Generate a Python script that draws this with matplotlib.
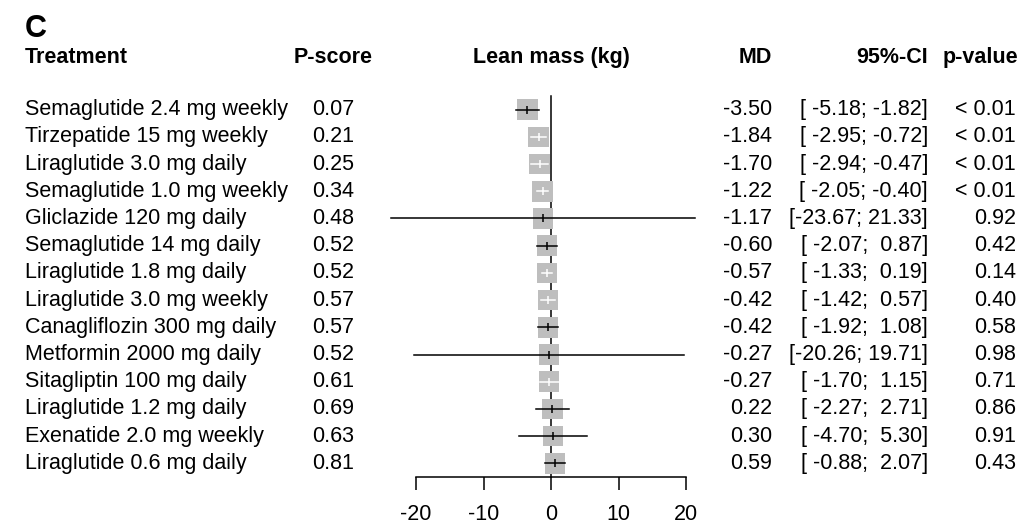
import numpy as np
import matplotlib
matplotlib.use("Agg")
import matplotlib.pyplot as plt
from matplotlib.patches import Rectangle
from matplotlib.transforms import blended_transform_factory

plt.rcParams['font.family'] = ['Liberation Sans', 'DejaVu Sans']
plt.rcParams['axes.unicode_minus'] = False

treatments = ["Semaglutide 2.4 mg weekly", "Tirzepatide 15 mg weekly",
              "Liraglutide 3.0 mg daily", "Semaglutide 1.0 mg weekly",
              "Gliclazide 120 mg daily", "Semaglutide 14 mg daily",
              "Liraglutide 1.8 mg daily", "Liraglutide 3.0 mg weekly",
              "Canagliflozin 300 mg daily", "Metformin 2000 mg daily",
              "Sitagliptin 100 mg daily", "Liraglutide 1.2 mg daily",
              "Exenatide 2.0 mg weekly", "Liraglutide 0.6 mg daily"]
pscore = [0.07, 0.21, 0.25, 0.34, 0.48, 0.52, 0.52, 0.57, 0.57, 0.52, 0.61, 0.69, 0.63, 0.81]
md = [-3.50, -1.84, -1.70, -1.22, -1.17, -0.60, -0.57, -0.42, -0.42, -0.27, -0.27, 0.22, 0.30, 0.59]
ci_lo = [-5.18, -2.95, -2.94, -2.05, -23.67, -2.07, -1.33, -1.42, -1.92, -20.26, -1.70, -2.27, -4.70, -0.88]
ci_hi = [-1.82, -0.72, -0.47, -0.40, 21.33, 0.87, 0.19, 0.57, 1.08, 19.71, 1.15, 2.71, 5.30, 2.07]
pvals = ["< 0.01", "< 0.01", "< 0.01", "< 0.01", "0.92", "0.42", "0.14",
         "0.40", "0.58", "0.98", "0.71", "0.86", "0.91", "0.43"]
xticks = [-20, -10, 0, 10, 20]

W, H = 1023, 528
fig = plt.figure(figsize=(W / 100, H / 100), dpi=100)
ax = fig.add_axes([416 / W, 51 / H, 270 / W, 381 / H])

n = len(treatments)
rows = np.arange(n)
ax.set_xlim(-20, 20)
ax.set_ylim(n - 0.5, -0.5)

# square size: fixed width in x units, same pixel height
sq_w = 3.05
px_per_x = 270 / 40
px_per_row = 381 / n
sq_h = sq_w * px_per_x / px_per_row

ax.plot([0, 0], [-0.5, n - 0.5], color='black', lw=1.1, zorder=1, clip_on=False)

for i in rows:
    ax.add_patch(Rectangle((md[i] - sq_w / 2, i - sq_h / 2), sq_w, sq_h,
                           facecolor='#bebebe', edgecolor='none', zorder=2))
    # CI drawn white when it sits well inside the square
    c = 'white' if (ci_hi[i] - ci_lo[i]) < sq_w - 0.15 else 'black'
    ax.plot([ci_lo[i], ci_hi[i]], [i, i], color=c, lw=1.1, zorder=3, clip_on=False)
    ax.plot(md[i], i, marker='|', color=c, markersize=5.5, mew=1.1, zorder=3)

for s in ['top', 'right', 'left']:
    ax.spines[s].set_visible(False)
ax.spines['bottom'].set_linewidth(1.1)
ax.set_yticks([])
ax.set_xticks(xticks)
ax.tick_params(axis='x', direction='out', length=9.6, width=1.1, pad=10, labelsize=15.5)

fs = 15.5
tr = blended_transform_factory(fig.transFigure, ax.transData)
for i in rows:
    ax.text(25 / W, i, treatments[i], transform=tr, ha='left', va='center', fontsize=fs)
    ax.text(333 / W, i, f"{pscore[i]:.2f}", transform=tr, ha='center', va='center', fontsize=fs)
    ax.text(772 / W, i, f"{md[i]:.2f}", transform=tr, ha='right', va='center', fontsize=fs)
    ax.text(928 / W, i, f"[{ci_lo[i]:6.2f}; {ci_hi[i]:5.2f}]", transform=tr,
            ha='right', va='center', fontsize=fs)
    ax.text(1016 / W, i, pvals[i], transform=tr, ha='right', va='center', fontsize=fs)

hy = 1 - 63 / H
fig.text(25 / W, 1 - 37 / H, "C", fontsize=22, fontweight='bold', ha='left', va='baseline')
fig.text(25 / W, hy, "Treatment", fontsize=fs, fontweight='bold', ha='left', va='baseline')
fig.text(333 / W, hy, "P-score", fontsize=fs, fontweight='bold', ha='center', va='baseline')
fig.text(551 / W, hy, "Lean mass (kg)", fontsize=fs, fontweight='bold', ha='center', va='baseline')
fig.text(772 / W, hy, "MD", fontsize=fs, fontweight='bold', ha='right', va='baseline')
fig.text(928 / W, hy, "95%-CI", fontsize=fs, fontweight='bold', ha='right', va='baseline')
fig.text(1018 / W, hy, "p-value", fontsize=fs, fontweight='bold', ha='right', va='baseline')

fig.savefig("out.png", dpi=100, facecolor='white')
